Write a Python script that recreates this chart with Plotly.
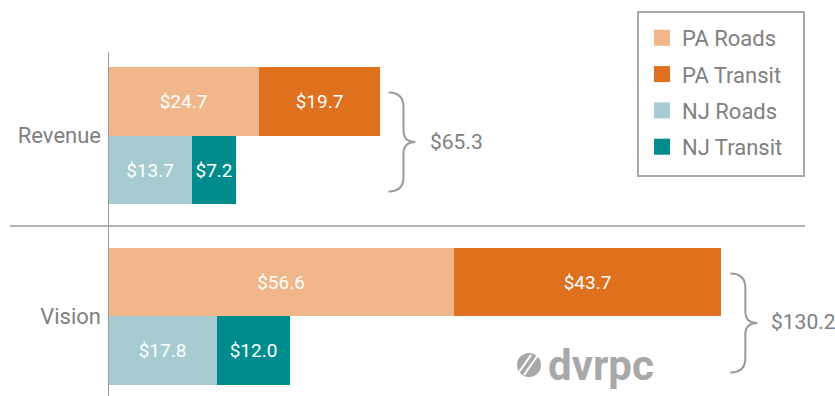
import plotly.graph_objects as go

# ---- data ($ billions) ----
groups = ["Revenue", "Vision"]
series = ["PA Roads", "PA Transit", "NJ Roads", "NJ Transit"]
pa_roads = [24.7, 56.6]
pa_transit = [19.7, 43.7]
nj_roads = [13.7, 17.8]
nj_transit = [7.2, 12.0]
totals = [65.3, 130.2]

colors = {
    "PA Roads": "#F1B68A",
    "PA Transit": "#DE701E",
    "NJ Roads": "#A6CBD0",
    "NJ Transit": "#008B8D",
}
GRAY = "#808080"
LINE_GRAY = "#9a9a9a"
FONT = "Roboto"

# ---- layout of rows: PA row on top, NJ row below, per group ----
W, H = 835, 396
ML = 108
PX_PER_UNIT = 6.115
ROW_PX = 68.5
group_start = [0.0, 2.64]
pa_y = [g for g in group_start]
nj_y = [g + 1 for g in group_start]
group_mid = [g + 0.5 for g in group_start]
y_top = -101.3 / ROW_PX
y_bot = (H - 101.3) / ROW_PX

fig = go.Figure()

bar_specs = [
    ("PA Roads", pa_roads, pa_y),
    ("PA Transit", pa_transit, pa_y),
    ("NJ Roads", nj_roads, nj_y),
    ("NJ Transit", nj_transit, nj_y),
]
for name, vals, ys in bar_specs:
    fig.add_trace(go.Bar(
        x=vals, y=ys, orientation="h", width=1.0, name=name,
        marker=dict(color=colors[name], line=dict(width=0)),
        texttemplate="$%{x:.1f}", textposition="inside",
        insidetextanchor="middle", textangle=0,
        textfont=dict(family=FONT, size=19, color="white"),
        showlegend=False, hoverinfo="skip",
    ))

# legend entries with larger square swatches
for name in series:
    fig.add_trace(go.Scatter(
        x=[None], y=[None], mode="markers", name=name,
        marker=dict(symbol="square", size=16, color=colors[name]),
        legendgroup=name, hoverinfo="skip",
    ))

shapes = []
annotations = []

# braces and totals to the right of each PA bar
for i in range(len(groups)):
    end = pa_roads[i] + pa_transit[i]
    shapes.append(dict(
        type="path", xref="x", yref="y",
        xsizemode="pixel", ysizemode="pixel",
        xanchor=end, yanchor=group_mid[i],
        path=("M 9,43 C 18,43 24,38.5 24,28.5 L 24,5 "
              "C 24,-2 28,-6.5 36,-6.5 "
              "C 28,-6.5 24,-11 24,-18 L 24,-41.5 "
              "C 24,-51.5 18,-56 9,-56"),
        line=dict(color=LINE_GRAY, width=2),
    ))
    annotations.append(dict(
        x=end, y=group_mid[i], xref="x", yref="y",
        text=f"${totals[i]:.1f}", showarrow=False,
        xanchor="left", yanchor="middle", xshift=48, yshift=-6,
        font=dict(family=FONT, size=21, color=GRAY),
    ))

# separator between the two groups
sep_y = (nj_y[0] + 0.5 + pa_y[1] - 0.5) / 2
plot_w = W - ML
shapes.append(dict(
    type="line", xref="paper", yref="y",
    x0=(10 - ML) / plot_w, x1=(805 - ML) / plot_w, y0=sep_y, y1=sep_y,
    line=dict(color=LINE_GRAY, width=1.5),
))

# vertical baseline at zero
shapes.append(dict(
    type="line", xref="x", yref="y",
    x0=0, x1=0, y0=pa_y[0] - 0.5 - 0.22, y1=y_bot,
    line=dict(color=LINE_GRAY, width=2),
))


def px(xp):
    return (xp - ML) / plot_w


def py(yp):
    return 1 - yp / H


# legend frame
shapes.append(dict(
    type="rect", xref="paper", yref="paper",
    x0=px(638), x1=px(804), y0=py(176), y1=py(12),
    line=dict(color="#a9a9a9", width=2), fillcolor="rgba(0,0,0,0)",
))

# dvrpc mark
logo_gray = "#a8a8a8"
shapes.append(dict(
    type="circle", xref="paper", yref="paper",
    x0=px(517), x1=px(541), y0=py(377), y1=py(353),
    fillcolor=logo_gray, line=dict(width=0),
))
for off in (-4, 3):
    shapes.append(dict(
        type="line", xref="paper", yref="paper",
        x0=px(521 + off), y0=py(375), x1=px(535 + off), y1=py(355),
        line=dict(color="white", width=2),
    ))
annotations.append(dict(
    x=px(546), y=py(365), xref="paper", yref="paper",
    text="<b>dvrpc</b>", showarrow=False, xanchor="left", yanchor="middle",
    font=dict(family=FONT, size=42, color=logo_gray),
))

fig.update_layout(
    width=W, height=H,
    margin=dict(l=ML, r=0, t=0, b=0),
    paper_bgcolor="white", plot_bgcolor="white",
    barmode="stack", bargap=0,
    uniformtext=dict(minsize=19, mode="show"),
    xaxis=dict(range=[0, plot_w / PX_PER_UNIT], visible=False, fixedrange=True),
    yaxis=dict(
        range=[y_bot, y_top], tickvals=group_mid, ticktext=groups,
        showgrid=False, zeroline=False, showline=False, ticks="",
        ticklabelstandoff=6,
        tickfont=dict(family=FONT, size=22, color=GRAY),
    ),
    legend=dict(
        x=px(642), y=py(17), xanchor="left", yanchor="top",
        borderwidth=0, bgcolor="rgba(0,0,0,0)",
        font=dict(family=FONT, size=22, color=GRAY),
        traceorder="grouped", tracegroupgap=4.7, itemwidth=30,
    ),
    shapes=shapes, annotations=annotations,
    showlegend=True,
)

fig.write_html("out.html")
